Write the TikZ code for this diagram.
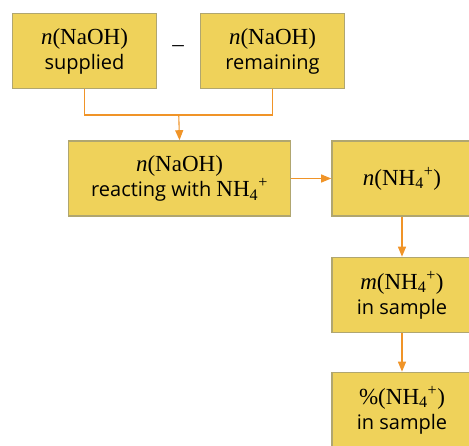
\documentclass[tikz,border=0pt]{standalone}
\usepackage{fontspec}
\setmainfont{Open Sans}
\newfontfamily\serf[Ligatures=TeX]{Liberation Serif}
\usetikzlibrary{arrows.meta}
\definecolor{boxfill}{RGB}{239,210, 90}
\definecolor{boxedge}{RGB}{176,166,112}
\definecolor{flow}{RGB}{240,148, 40}
\newcommand{\chem}[1]{{\serf\fontsize{23}{25}\selectfont #1}}
\newcommand{\ion}{NH\textsubscript{4}\textsuperscript{+}}

\begin{document}
\begin{tikzpicture}[
		x=1pt,y=-1pt,
		every node/.style={font=\fontsize{20}{25}\selectfont,align=center},
		qbox/.style={draw=boxedge,line width=1.6pt,fill=boxfill,minimum height=75pt,inner sep=0pt},
		small/.style={qbox,minimum width=144pt},
		wide/.style={qbox,minimum width=222pt},
		flowline/.style={draw=flow,line width=1.1pt},
		flowarrow/.style={flowline,-{Triangle[length=10pt,width=8pt]}}
	]
	\useasboundingbox (0,0) rectangle (469,446);
	
	%top row
		\node[small] (supp) at (84.5,51) {\chem{\textit{n}(NaOH)}\\supplied};
		\node[small] (rem) at (272.5,51) {\chem{\textit{n}(NaOH)}\\remaining};
		\node (minus) at (178,49) {\chem{–}};
	%middle
		\node[wide] (react) at (179.5,178.5) {\chem{\textit{n}(NaOH)}\\reacting with \chem{\ion}};
	%right column
		\foreach \n/\y/\t in {nion/178.5/{\chem{\textit{n}(\ion)}}, mass/295/{\chem{\textit{m}(\ion)}\\in sample}, pct/410/{\chem{\%(\ion)}\\in sample}}
			\node[qbox,minimum width=140pt] (\n) at (402,\y) {\t};
	
	%connectors
		\coordinate (join) at (178.75,115);
		\draw[flowline] (supp.south) |- (join) -| (rem.south);
		\draw[flowarrow] (join) -- (react.north);
		\draw[flowarrow] (react.east) -- (nion.west);
		\draw[flowarrow] (nion.south) -- (mass.north);
		\draw[flowarrow] (mass.south) -- (pct.north);
	\end{tikzpicture}
\end{document}
